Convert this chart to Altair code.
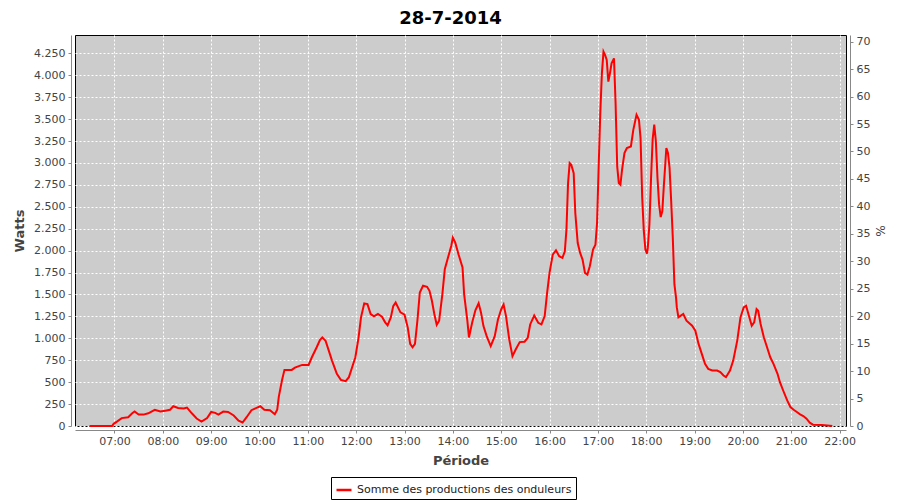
import altair as alt
import pandas as pd

times = ["06:29","06:45","06:57","06:59","07:03","07:09","07:17","07:22","07:25","07:30",
"07:36","07:42","07:50","07:57","08:03","08:09","08:13","08:19","08:26","08:30",
"08:36","08:42","08:48","08:55","09:00","09:05","09:09","09:15","09:21","09:28",
"09:34","09:39","09:44","09:50","09:57","10:01","10:06","10:13","10:19","10:22",
"10:24","10:28","10:31","10:40","10:44","10:48","10:53","11:01","11:05","11:11",
"11:15","11:18","11:22","11:26","11:30","11:36","11:41","11:47","11:51","11:55",
"11:59","12:03","12:06","12:10","12:14","12:18","12:22","12:27","12:32","12:36",
"12:39","12:43","12:46","12:49","12:55","13:00","13:04","13:07","13:10","13:13",
"13:16","13:19","13:23","13:28","13:31","13:34","13:37","13:40","13:43","13:47",
"13:50","13:54","13:58","14:00","14:03","14:07","14:12","14:14","14:18","14:20",
"14:24","14:28","14:32","14:35","14:38","14:42","14:47","14:52","14:56","15:00",
"15:03","15:06","15:10","15:14","15:18","15:23","15:29","15:33","15:36","15:41",
"15:46","15:50","15:54","15:57","16:00","16:04","16:08","16:12","16:16","16:19",
"16:21","16:23","16:25","16:27","16:30","16:32","16:35","16:38","16:41","16:44",
"16:47","16:50","16:54","16:57","16:59","17:01","17:03","17:05","17:07","17:09",
"17:11","17:13","17:15","17:17","17:20","17:22","17:24","17:26","17:28","17:30",
"17:33","17:36","17:41","17:44","17:48","17:51","17:53","17:55","17:57","17:59",
"18:01","18:02","18:04","18:06","18:08","18:10","18:12","18:14","18:16","18:18",
"18:20","18:22","18:25","18:27","18:29","18:31","18:33","18:35","18:37","18:38",
"18:40","18:43","18:46","18:50","18:57","19:01","19:05","19:09","19:13","19:17",
"19:22","19:28","19:32","19:36","19:39","19:44","19:48","19:53","19:57","20:01",
"20:04","20:08","20:11","20:14","20:17","20:19","20:22","20:26","20:30","20:34",
"20:38","20:43","20:46","20:50","20:55","20:59","21:03","21:07","21:11","21:15",
"21:19","21:23","21:27","21:38","21:48","21:51"]

watts = [0,0,0,25,50,90,100,145,165,130,
130,145,185,165,175,185,225,205,200,210,
145,85,50,90,160,150,130,165,160,120,
60,40,100,180,210,225,185,180,135,185,
335,525,640,640,665,680,697,697,784,898,
981,1011,973,860,746,595,526,511,557,670,
784,1011,1239,1398,1390,1277,1250,1277,1246,1182,
1148,1239,1367,1409,1296,1269,1125,936,898,936,
1201,1523,1599,1587,1542,1428,1277,1155,1201,1504,
1788,1921,2053,2148,2091,1958,1807,1504,1201,1010,
1180,1320,1400,1291,1139,1025,911,1025,1215,1329,
1386,1253,987,797,873,957,961,1006,1158,1260,
1177,1158,1253,1518,1746,1955,2004,1936,1917,1993,
2239,2770,2998,2979,2884,2429,2087,1974,1898,1746,
1727,1822,2012,2068,2315,2960,3567,4022,4270,4231,
4174,3928,4022,4136,4193,3681,2960,2770,2751,2922,
3112,3169,3188,3377,3548,3491,3280,2610,2230,2012,
1965,2034,2300,2820,3270,3436,3246,2830,2527,2383,
2451,2754,3171,3114,2943,2565,2148,1617,1466,1352,
1239,1258,1277,1201,1144,1087,936,822,708,652,
633,633,614,576,557,633,746,974,1239,1352,
1371,1239,1144,1182,1333,1314,1163,1011,898,784,
708,595,500,405,292,216,186,159,133,114,
83,38,15,11,4,0]

series_name = "Somme des productions des onduleurs"
watt_ticks = list(range(0, 4251, 250))
pct_ticks = list(range(0, 71, 5))
hour_ticks = list(range(7, 23))

df = pd.DataFrame({
    "time": ["2014-07-28T" + t + ":00" for t in times],
    "watts": watts,
    "series": series_name,
})

FONT = "DejaVu Sans"
LBL = "#444444"

def dt(h, m=0):
    return alt.DateTime(year=2014, month=7, date=28, hours=h, minutes=m)

xscale = alt.Scale(domain=[dt(6, 11), dt(22, 8)])

base = alt.Chart(df)

line = base.mark_line(strokeWidth=2, interpolate="linear").encode(
    x=alt.X("time:T", scale=xscale,
            axis=alt.Axis(title="Période", format="%H:%M", values=[dt(h) for h in hour_ticks],
                          grid=True, offset=4, tickSize=3, labelPadding=2,
                          titlePadding=8, labelFlush=False)),
    y=alt.Y("watts:Q", scale=alt.Scale(domain=[0, 4459], nice=False),
            axis=alt.Axis(title="Watts", orient="left", values=watt_ticks, grid=True,
                          offset=4, tickSize=3, labelPadding=3, titlePadding=7,
                          labelExpr="replace(format(datum.value, ','), ',', '.')")),
    color=alt.Color("series:N", scale=alt.Scale(range=["#ff0000"]),
                    legend=alt.Legend(title=None, orient="none", legendX=256, legendY=442,
                                      strokeColor="black", fillColor="white", padding=4,
                                      symbolType="stroke", symbolStrokeWidth=2.5,
                                      symbolSize=225, labelFont=FONT, labelFontSize=11,
                                      labelColor="#222222", labelOffset=4, labelLimit=0)),
)

pct = base.transform_calculate(pct="0").mark_line(opacity=0).encode(
    x=alt.X("time:T", scale=xscale),
    y=alt.Y("pct:Q", scale=alt.Scale(domain=[0, 71.22], nice=False),
            axis=alt.Axis(title="%", orient="right", values=pct_ticks, grid=False,
                          offset=4, tickSize=3, labelPadding=3, titlePadding=3,
                          titleAngle=90, titleFontWeight="normal", titleFontSize=12)),
)

chart = alt.layer(line, pct).resolve_scale(y="independent").properties(
    width=771,
    height=391,
    background="white",
    autosize=alt.AutoSizeParams(type="none"),
    padding={"left": 67, "top": 27, "right": 46, "bottom": 80},
    title=alt.Title("28-7-2014", font=FONT, fontSize=18, fontWeight="bold",
                    color="black", anchor="middle", dx=-10, offset=7),
).configure_view(
    fill="#cccccc", stroke="black", strokeWidth=1
).configure_axis(
    labelFont=FONT, labelFontSize=11, labelColor=LBL,
    titleFont=FONT, titleFontSize=13, titleFontWeight="bold", titleColor=LBL,
    domainColor="#888888", tickColor="#888888",
    gridColor="white", gridDash=[2, 2], gridOpacity=1, gridWidth=1,
)

chart.save("out.html", embed_options={"renderer": "svg", "actions": False})
